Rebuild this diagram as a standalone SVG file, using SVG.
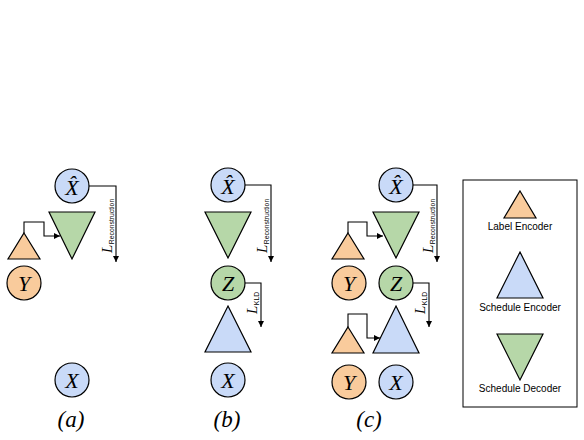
<svg xmlns="http://www.w3.org/2000/svg" width="584" height="440" viewBox="0 0 584 440">
<defs>
<style>
.bc{fill:#c9daf8;stroke:#000;stroke-width:1.2}
.oc{fill:#f9cb9c;stroke:#000;stroke-width:1.2}
.gc{fill:#b6d7a8;stroke:#000;stroke-width:1.2}
.v{font-family:"Liberation Serif",serif;font-style:italic;font-size:22px;text-anchor:middle;fill:#000}
.cap{font-family:"Liberation Serif",serif;font-style:italic;font-size:23px;text-anchor:middle;fill:#000}
.ln{fill:none;stroke:#000;stroke-width:1.1}
.L{font-family:"Liberation Serif",serif;font-style:italic;font-size:15px;fill:#000}
.sub{font-family:"Liberation Sans",sans-serif;font-style:normal;font-size:6.8px;fill:#000}
.lg{font-family:"Liberation Sans",sans-serif;font-size:10px;text-anchor:middle;fill:#000}
</style>
<marker id="ah" viewBox="0 0 10 10" refX="10" refY="5" markerWidth="6" markerHeight="6" orient="auto" markerUnits="userSpaceOnUse">
<path d="M0,0 L10,5 L0,10 z" fill="#000"/>
</marker>
</defs>
<rect width="584" height="440" fill="#fff"/>

<g id="connectors">
<path class="ln" d="M24,233 V222 H44 V236 H60" marker-end="url(#ah)"/>
<path class="ln" d="M89,186 H116 V262" marker-end="url(#ah)"/>
<path class="ln" d="M245,185 H271 V262" marker-end="url(#ah)"/>
<path class="ln" d="M245,283 H261 V327" marker-end="url(#ah)"/>
<path class="ln" d="M348,233 V222 H367 V236 H383" marker-end="url(#ah)"/>
<path class="ln" d="M348,327 V314 H367 V338 H380" marker-end="url(#ah)"/>
<path class="ln" d="M413,185 H437 V262" marker-end="url(#ah)"/>
<path class="ln" d="M413,283 H429 V327" marker-end="url(#ah)"/>
</g>

<g id="labels-loss">
<text class="L" transform="translate(112,253) rotate(-90)">L<tspan class="sub" dx="0.5" dy="2.2">Reconstruction</tspan></text>
<text class="L" transform="translate(267,253) rotate(-90)">L<tspan class="sub" dx="0.5" dy="2.2">Reconstruction</tspan></text>
<text class="L" transform="translate(433,253) rotate(-90)">L<tspan class="sub" dx="0.5" dy="2.2">Reconstruction</tspan></text>
<text class="L" transform="translate(257,314) rotate(-90)">L<tspan class="sub" dx="0.5" dy="2.2">KLD</tspan></text>
<text class="L" transform="translate(425,314) rotate(-90)">L<tspan class="sub" dx="0.5" dy="2.2">KLD</tspan></text>
</g>

<!-- panel a -->
<g id="a-xhat"><circle class="bc" cx="72" cy="186" r="17"/><text class="v" x="72" y="195">X&#x302;</text></g>
<g id="a-decoder"><polygon class="gc" points="49,212 95,212 72,259"/></g>
<g id="a-labelenc"><polygon class="oc" points="24,233 40,259 8,259"/></g>
<g id="a-y"><circle class="oc" cx="24" cy="283" r="17"/><text class="v" x="24" y="291">Y</text></g>
<g id="a-x"><circle class="bc" cx="72" cy="380" r="17"/><text class="v" x="72" y="388">X</text></g>
<text class="cap" x="71" y="427">(a)</text>

<!-- panel b -->
<g id="b-xhat"><circle class="bc" cx="228" cy="185" r="17"/><text class="v" x="228" y="194">X&#x302;</text></g>
<g id="b-decoder"><polygon class="gc" points="205,212 251,212 228,258"/></g>
<g id="b-z"><circle class="gc" cx="228" cy="283" r="17"/><text class="v" x="228" y="291">Z</text></g>
<g id="b-encoder"><polygon class="bc" points="228,306 251,352 205,352"/></g>
<g id="b-x"><circle class="bc" cx="228" cy="380" r="17"/><text class="v" x="228" y="388">X</text></g>
<text class="cap" x="227" y="427">(b)</text>

<!-- panel c -->
<g id="c-xhat"><circle class="bc" cx="396" cy="185" r="17"/><text class="v" x="396" y="194">X&#x302;</text></g>
<g id="c-decoder"><polygon class="gc" points="373,212 419,212 396,258"/></g>
<g id="c-labelenc1"><polygon class="oc" points="348,233 364,259 332,259"/></g>
<g id="c-y1"><circle class="oc" cx="349" cy="283" r="17"/><text class="v" x="349" y="291">Y</text></g>
<g id="c-z"><circle class="gc" cx="396" cy="283" r="17"/><text class="v" x="396" y="291">Z</text></g>
<g id="c-labelenc2"><polygon class="oc" points="348,327 364,353 332,353"/></g>
<g id="c-encoder"><polygon class="bc" points="396,306 419,353 373,353"/></g>
<g id="c-y2"><circle class="oc" cx="349" cy="382" r="17"/><text class="v" x="349" y="390">Y</text></g>
<g id="c-x"><circle class="bc" cx="396" cy="382" r="17"/><text class="v" x="396" y="390">X</text></g>
<text class="cap" x="369" y="427">(c)</text>

<!-- legend -->
<g id="legend">
<rect x="463" y="180" width="114" height="227" fill="#fff" stroke="#000" stroke-width="1"/>
<polygon class="oc" points="520,191 536,218 504,218"/>
<text class="lg" x="520" y="230">Label Encoder</text>
<polygon class="bc" points="520,252 543,298 497,298"/>
<text class="lg" x="520" y="311">Schedule Encoder</text>
<polygon class="gc" points="497,334 543,334 520,380"/>
<text class="lg" x="520" y="392">Schedule Decoder</text>
</g>
</svg>
